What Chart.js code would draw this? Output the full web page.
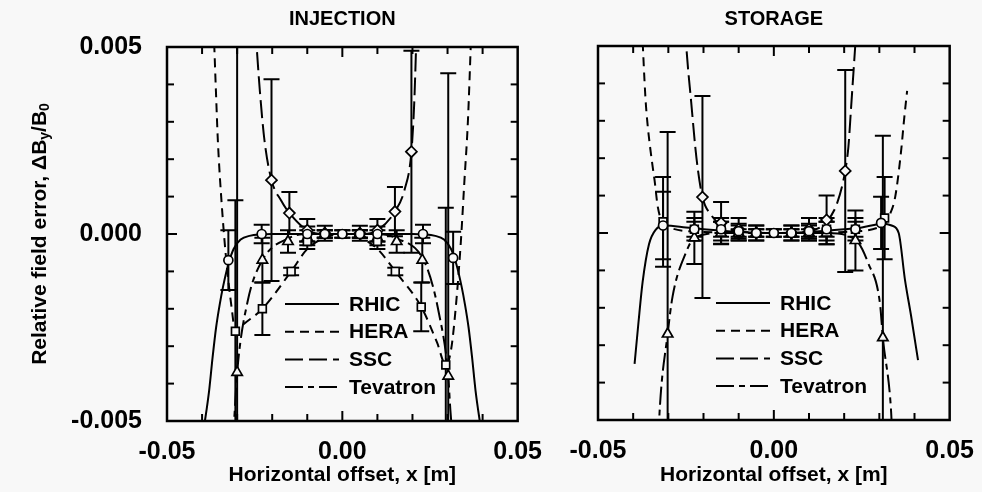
<!DOCTYPE html>
<html><head><meta charset="utf-8">
<script src="https://cdn.jsdelivr.net/npm/chart.js@4.4.1/dist/chart.umd.min.js"></script>
<style>
html,body{margin:0;padding:0;background:#f8f8f8;width:982px;height:492px;overflow:hidden;}
#c1{position:absolute;left:0;top:0;}
#c2{position:absolute;left:550px;top:0;}
</style></head><body>
<canvas id="c1" width="550" height="492"></canvas>
<canvas id="c2" width="432" height="492"></canvas>
<script>
// ---------- tick labels / text ----------
const xLabelValues = [-0.05, 0, 0.05];
const yLabelValues = [-0.005, 0, 0.005];
const seriesNames = ['RHIC', 'HERA', 'SSC', 'Tevatron'];
const panelTitles = ['INJECTION', 'STORAGE'];

// ---------- INJECTION curves ----------
const injRhicX = [-0.0395,-0.038,-0.037,-0.036,-0.035,-0.034,-0.0325,-0.031,-0.029,-0.0265,-0.02,-0.01,0,0.01,0.02,0.0265,0.029,0.031,0.0325,0.034,0.035,0.036,0.037,0.038,0.0395];
const injRhicY = [-0.0052,-0.0042,-0.0033,-0.0025,-0.0019,-0.0014,-0.0008,-0.0004,-0.00015,-0.00005,0,0,0,0,0,-0.00005,-0.00015,-0.0004,-0.0008,-0.0014,-0.0019,-0.0025,-0.0033,-0.0042,-0.0052];
const injHeraX = [-0.0367,-0.036,-0.0355,-0.0344,-0.033,-0.0316,-0.0305,-0.028,-0.0228,-0.0146,-0.01,-0.005,0,0.005,0.01,0.0151,0.0225,0.027,0.0295,0.031,0.0325,0.0338,0.0348,0.0358,0.0368];
const injHeraY = [0.0055,0.0037,0.0025,0.0008,-0.0008,-0.00195,-0.0026,-0.0024,-0.002,-0.001,-0.0004,-0.0001,0,-0.0001,-0.0004,-0.001,-0.00195,-0.0029,-0.0035,-0.0031,-0.0018,-0.0002,0.0014,0.003,0.0055];
const injSscX = [-0.0248,-0.0235,-0.0222,-0.0202,-0.0175,-0.0151,-0.01,-0.005,0,0.005,0.01,0.015,0.0178,0.0197,0.0205,0.0212];
const injSscY = [0.0055,0.0038,0.0025,0.00144,0.0009,0.00056,0.0001,0,0,0,0.0001,0.0006,0.0012,0.0022,0.0035,0.0055];
const injTevX = [-0.0312,-0.0306,-0.03,-0.027,-0.0228,-0.015,-0.01,0,0.01,0.015,0.0237,0.0275,0.0302,0.0308,0.0315];
const injTevY = [-0.0055,-0.0046,-0.0037,-0.0018,-0.0007,-0.0001,0,0,0,-0.0001,-0.0008,-0.0021,-0.0038,-0.0047,-0.0055];

// ---------- INJECTION measured points (value, error) ----------
const injCircX = [-0.0325,-0.023,-0.01,-0.005,0,0.005,0.01,0.023,0.0316];
const injCircY = [-0.0007,0.0,0.0,0,0,0,0,0.0,-0.00064];
const injCircE = [0.0008,0.00025,0.0002,0.0001,0.0001,0.0001,0.0002,0.00025,0.0007];
const injDiamX = [-0.0202,-0.0151,-0.01,-0.005,0.005,0.01,0.015,0.0197];
const injDiamY = [0.00144,0.00056,0.0001,0.00002,0.00002,0.0001,0.0006,0.0022];
const injDiamE = [0.0027,0.00056,0.0003,0.0002,0.0002,0.0003,0.00066,0.0027];
const injSqX = [-0.0305,-0.0228,-0.0146,-0.01,-0.005,0,0.005,0.01,0.0151,0.0225,0.0295];
const injSqY = [-0.0026,-0.002,-0.001,-0.0002,0,0,0,-0.0002,-0.001,-0.00195,-0.0035];
const injSqE = [0.0035,0.0007,0.0001,0.0002,0.0001,0.0001,0.0001,0.0002,0.0001,0.00065,0.0042];
const injTriX = [-0.03,-0.0228,-0.0155,-0.01,-0.005,0.005,0.01,0.0155,0.0228,0.0302];
const injTriY = [-0.0037,-0.0007,-0.0002,-0.0001,0,0,-0.0001,-0.0002,-0.0007,-0.0038];
const injTriE = [0.0095,0.0006,0.0003,0.0002,0.0001,0.0001,0.0002,0.0003,0.0006,0.0081];

// ---------- STORAGE curves ----------
const stoRhicX = [-0.0396,-0.0385,-0.0373,-0.0355,-0.0335,-0.031,-0.025,-0.02,-0.01,0,0.01,0.02,0.025,0.031,0.0335,0.0355,0.0373,0.039,0.041];
const stoRhicY = [-0.0035,-0.0024,-0.0013,-0.0003,0.0001,0.0002,0.00015,0.0001,0.00003,0,0.00003,0.0001,0.00015,0.00025,0.0002,0.0,-0.00126,-0.0022,-0.0034];
const stoHeraX = [-0.0375,-0.0365,-0.0359,-0.0345,-0.0339,-0.033,-0.031,-0.02,-0.01,0,0.01,0.02,0.031,0.033,0.0345,0.0362,0.037,0.0379];
const stoHeraY = [0.0055,0.0036,0.0029,0.0018,0.0014,0.0007,0.0002,0.00003,0,0,0,0.00003,0.0002,0.0005,0.00096,0.0022,0.003,0.0038];
const stoSscX = [-0.0252,-0.0249,-0.0235,-0.022,-0.0203,-0.0178,-0.015,-0.01,0,0.01,0.015,0.018,0.0203,0.0212,0.022,0.0235];
const stoSscY = [0.0055,0.005,0.0035,0.002,0.00096,0.00048,0.0002,0.00005,0,0.00005,0.0003,0.0008,0.00166,0.0023,0.0034,0.0055];
const stoTevX = [-0.0328,-0.0325,-0.0302,-0.0288,-0.0249,-0.0226,-0.015,0,0.015,0.0234,0.0268,0.0302,0.031,0.0333,0.0337];
const stoTevY = [-0.0055,-0.0048,-0.0027,-0.0017,-0.0005,-0.00013,0,0,0,-0.0002,-0.0008,-0.0019,-0.0028,-0.0047,-0.0055];

// ---------- STORAGE measured points (value, error) ----------
const stoCircX = [-0.0315,-0.0226,-0.015,-0.01,-0.005,0,0.005,0.01,0.015,0.0232,0.0305];
const stoCircY = [0.0002,0.0001,0.0001,0.00005,0,0,0,0.00005,0.0001,0.0001,0.00027];
const stoCircE = [0.0009,0.0003,0.0003,0.0002,0.0001,0.0001,0.0001,0.0002,0.0003,0.0003,0.0007];
const stoDiamX = [-0.0203,-0.015,-0.01,-0.005,0.005,0.01,0.015,0.0203];
const stoDiamY = [0.00096,0.00027,0.0001,0,0,0.0001,0.00035,0.00166];
const stoDiamE = [0.0027,0.00056,0.0003,0.0002,0.0002,0.0003,0.00065,0.0027];
const stoSqX = [-0.0315,-0.0226,-0.015,-0.01,-0.005,0,0.005,0.01,0.015,0.0232,0.0315];
const stoSqY = [0.0003,0.0001,0.0001,0,0,0,0,0,0.0001,0.0001,0.0004];
const stoSqE = [0.0012,0.0002,0.0002,0.0001,0.0001,0.0001,0.0001,0.0001,0.0002,0.0002,0.0011];
const stoTriX = [-0.0302,-0.0226,-0.015,-0.01,-0.005,0.005,0.01,0.015,0.0232,0.031];
const stoTriY = [-0.0027,-0.00013,0,0,0,0,0,0,-0.0002,-0.0028];
const stoTriE = [0.0054,0.0007,0.0003,0.0002,0.0002,0.0002,0.0002,0.0003,0.0008,0.0054];

// ---------- styling ----------
const BG = '#f8f8f8';
const FONT = "'Liberation Sans', Arial, Helvetica, sans-serif";
Chart.defaults.font.family = FONT;
Chart.defaults.color = '#000';
const dashes = { RHIC: [], HERA: [9, 6], SSC: [18, 6], Tevatron: [18, 5, 6, 5] };

function pts(xs, ys) { return xs.map((x, i) => ({ x: x, y: ys[i] })); }
function curve(name, xs, ys) {
  return { label: name, data: pts(xs, ys), showLine: true, pointRadius: 0, pointHoverRadius: 0,
    borderColor: '#000', borderWidth: 2, borderDash: dashes[name], cubicInterpolationMode: 'monotone',
    fill: false, order: 2 };
}
function marks(name, xs, ys, es, style, r) {
  return { label: name, data: pts(xs, ys), errors: es, showLine: false, pointStyle: style, pointRadius: r,
    pointBackgroundColor: BG, pointBorderColor: '#000', pointBorderWidth: 1.7, order: 1 };
}

const errorBarPlugin = {
  id: 'errbars',
  beforeDatasetsDraw(chart) {
    const { ctx, chartArea: a, scales: { x, y } } = chart;
    ctx.save();
    ctx.beginPath(); ctx.rect(a.left, a.top, a.right - a.left, a.bottom - a.top); ctx.clip();
    ctx.strokeStyle = '#000'; ctx.lineWidth = 2;
    chart.data.datasets.forEach(ds => {
      if (!ds.errors) return;
      ds.data.forEach((p, i) => {
        const e = ds.errors[i];
        const px = x.getPixelForValue(p.x);
        const t = y.getPixelForValue(p.y + e), b = y.getPixelForValue(p.y - e);
        ctx.beginPath();
        ctx.moveTo(px, t); ctx.lineTo(px, b);
        ctx.moveTo(px - 8, t); ctx.lineTo(px + 8, t);
        ctx.moveTo(px - 8, b); ctx.lineTo(px + 8, b);
        ctx.stroke();
      });
    });
    ctx.restore();
  }
};

function makeDecor(title, withYTitle) {
  return {
    id: 'decor',
    afterDraw(chart) {
      const { ctx, chartArea: a, scales: { x, y } } = chart;
      ctx.save();
      ctx.strokeStyle = '#000'; ctx.fillStyle = '#000';
      ctx.lineWidth = 2;
      const ln = (x1, y1, x2, y2) => { ctx.beginPath(); ctx.moveTo(x1, y1); ctx.lineTo(x2, y2); ctx.stroke(); };
      x.ticks.forEach(t => {
        const px = x.getPixelForValue(t.value);
        if (px <= a.left + 2 || px >= a.right - 2) return;
        const L = Math.abs(t.value) < 1e-9 ? 10 : 7;
        ln(px, a.top, px, a.top + L); ln(px, a.bottom, px, a.bottom - L);
      });
      y.ticks.forEach(t => {
        const py = y.getPixelForValue(t.value);
        if (py <= a.top + 2 || py >= a.bottom - 2) return;
        const L = Math.abs(t.value) < 1e-9 ? 10 : 7;
        ln(a.left, py, a.left + L, py); ln(a.right, py, a.right - L, py);
      });
      ctx.lineWidth = 2.5;
      ctx.strokeRect(a.left, a.top, a.right - a.left, a.bottom - a.top);

      // panel title
      ctx.font = 'bold 20px ' + FONT;
      ctx.textAlign = 'center'; ctx.textBaseline = 'middle';
      ctx.fillText(title, (a.left + a.right) / 2, 19);

      // legend
      ctx.font = 'bold 21px ' + FONT;
      ctx.textAlign = 'left';
      seriesNames.forEach((n, i) => {
        const ly = a.top + 257 + i * 27.7;
        ctx.setLineDash(dashes[n]); ctx.lineWidth = 2;
        ln(a.left + 118, ly, a.left + 172, ly);
        ctx.setLineDash([]);
        ctx.fillText(n, a.left + 182, ly + 1);
      });

      if (withYTitle) {
        ctx.translate(40, (a.top + a.bottom) / 2);
        ctx.rotate(-Math.PI / 2);
        const big = 'bold 21px ' + FONT, small = 'bold 14px ' + FONT;
        const parts = [['Relative field error, \u0394B', big, 0], ['y', small, 5], ['/B', big, 0], ['0', small, 5]];
        let w = 0;
        parts.forEach(p => { ctx.font = p[1]; w += ctx.measureText(p[0]).width; });
        let cx = -w / 2;
        ctx.textAlign = 'left'; ctx.textBaseline = 'middle';
        parts.forEach(p => { ctx.font = p[1]; ctx.fillText(p[0], cx, p[2]); cx += ctx.measureText(p[0]).width; });
      }
      ctx.restore();
    }
  };
}

function matchLabel(list, v, eps) { return list.find(l => Math.abs(l - v) < eps); }

function makeChart(id, title, cur, mk, geo) {
  const datasets = [
    marks('RHIC', mk.circ[0], mk.circ[1], mk.circ[2], 'circle', 4.5),
    marks('SSC', mk.diam[0], mk.diam[1], mk.diam[2], 'rectRot', 5.5),
    marks('HERA', mk.sq[0], mk.sq[1], mk.sq[2], 'rect', 5.5),
    marks('Tevatron', mk.tri[0], mk.tri[1], mk.tri[2], 'triangle', 6),
    curve('RHIC', cur.rhic[0], cur.rhic[1]),
    curve('HERA', cur.hera[0], cur.hera[1]),
    curve('SSC', cur.ssc[0], cur.ssc[1]),
    curve('Tevatron', cur.tev[0], cur.tev[1])
  ];
  return new Chart(document.getElementById(id), {
    type: 'scatter',
    data: { datasets },
    options: {
      responsive: false, animation: false, devicePixelRatio: 1,
      layout: { padding: { top: geo.top, right: geo.right, left: 0, bottom: 0 } },
      plugins: { legend: { display: false }, tooltip: { enabled: false }, title: { display: false } },
      scales: {
        x: {
          type: 'linear', min: -0.05, max: 0.05,
          grid: { display: false }, border: { display: false },
          ticks: { stepSize: 0.01, autoSkip: false, maxRotation: 0, padding: 8,
            font: { size: 25, weight: 'bold' }, color: '#000',
            callback: v => { const m = matchLabel(xLabelValues, v, 1e-6); return m === undefined ? '' : m.toFixed(2); } },
          title: { display: true, text: 'Horizontal offset, x [m]', color: '#000',
            font: { size: 21, weight: 'bold' }, padding: { top: 0, bottom: 4 } },
          afterFit: s => { s.height = geo.xh; }
        },
        y: {
          type: 'linear', min: -0.005, max: 0.005,
          grid: { display: false }, border: { display: false },
          ticks: { stepSize: 0.001, autoSkip: false, padding: 17,
            font: { size: 25, weight: 'bold' }, color: '#000',
            callback: v => { if (!geo.ylabels) return ''; const m = matchLabel(yLabelValues, v, 1e-7); return m === undefined ? '' : m.toFixed(3); } },
          afterFit: s => { s.width = geo.yw; }
        }
      }
    },
    plugins: [errorBarPlugin, makeDecor(title, geo.ylabels)]
  });
}

makeChart('c1', panelTitles[0],
  { rhic: [injRhicX, injRhicY], hera: [injHeraX, injHeraY], ssc: [injSscX, injSscY], tev: [injTevX, injTevY] },
  { circ: [injCircX, injCircY, injCircE], diam: [injDiamX, injDiamY, injDiamE], sq: [injSqX, injSqY, injSqE], tri: [injTriX, injTriY, injTriE] },
  { top: 47, right: 30, xh: 71, yw: 167, ylabels: true });

makeChart('c2', panelTitles[1],
  { rhic: [stoRhicX, stoRhicY], hera: [stoHeraX, stoHeraY], ssc: [stoSscX, stoSscY], tev: [stoTevX, stoTevY] },
  { circ: [stoCircX, stoCircY, stoCircE], diam: [stoDiamX, stoDiamY, stoDiamE], sq: [stoSqX, stoSqY, stoSqE], tri: [stoTriX, stoTriY, stoTriE] },
  { top: 46, right: 30, xh: 72, yw: 48, ylabels: false });
</script>
</body></html>
